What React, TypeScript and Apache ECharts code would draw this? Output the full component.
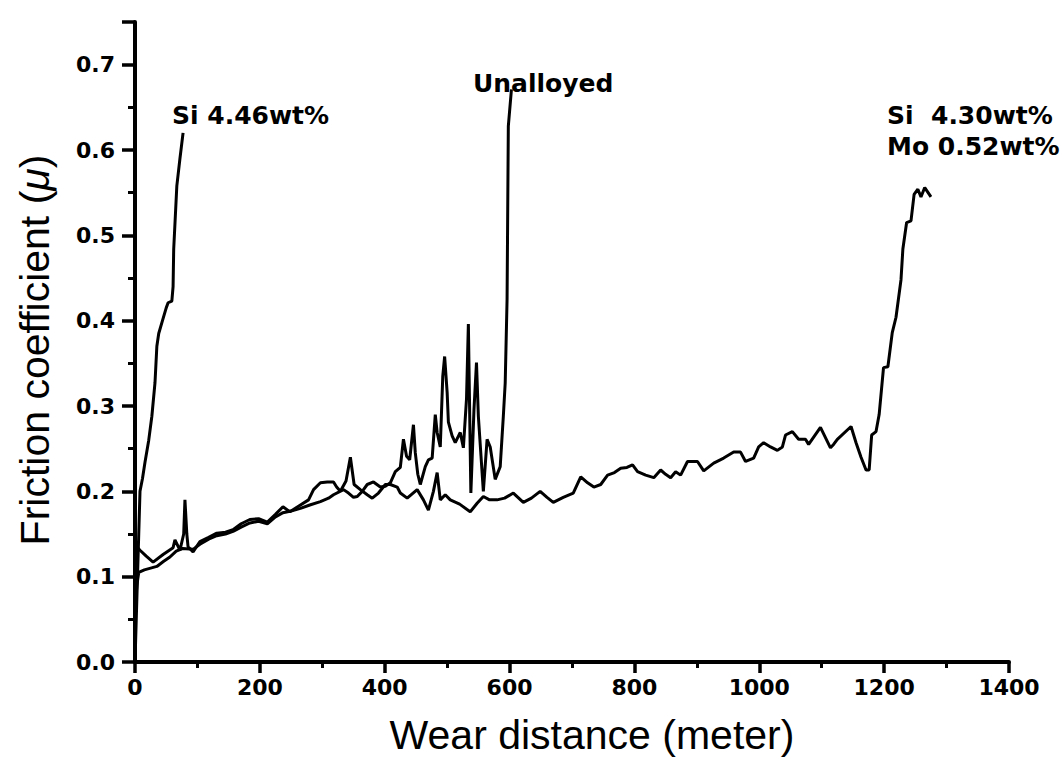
import React, { useEffect, useRef } from "react";
import * as echarts from "echarts";

const xTicks = [0, 200, 400, 600, 800, 1000, 1200, 1400];
const yTicks = [0.0, 0.1, 0.2, 0.3, 0.4, 0.5, 0.6, 0.7];

const si446: [number, number][] = [
  [0, 0.0], [2, 0.05], [4, 0.1], [6, 0.15], [8, 0.2], [12, 0.215], [16, 0.234], [22, 0.26],
  [27, 0.288], [32, 0.327], [35, 0.37], [38, 0.385], [44, 0.4], [50, 0.415], [53, 0.421],
  [59, 0.423], [61, 0.44], [62, 0.484], [67, 0.558], [72, 0.59], [77, 0.62],
];

const unalloyed: [number, number][] = [
  [0, 0.06], [3, 0.09], [6, 0.105], [15, 0.108], [25, 0.11], [35, 0.112], [46, 0.118], [56, 0.123],
  [66, 0.13], [76, 0.133], [93, 0.132], [104, 0.138], [118, 0.144], [131, 0.148], [145, 0.15],
  [157, 0.153], [170, 0.158], [184, 0.163], [198, 0.165], [212, 0.162], [225, 0.17], [237, 0.175],
  [250, 0.177], [265, 0.18], [280, 0.184], [297, 0.188], [310, 0.192], [318, 0.196], [334, 0.202],
  [342, 0.198], [350, 0.193], [356, 0.194], [364, 0.2], [372, 0.208], [382, 0.211], [393, 0.205],
  [401, 0.206], [409, 0.21], [417, 0.223], [425, 0.228], [430, 0.261], [435, 0.241], [440, 0.237],
  [446, 0.278], [449, 0.245], [453, 0.22], [457, 0.208], [465, 0.229], [470, 0.237], [476, 0.239],
  [481, 0.29], [484, 0.269], [489, 0.252], [493, 0.335], [496, 0.358], [500, 0.316], [502, 0.281],
  [508, 0.265], [513, 0.257], [521, 0.269], [526, 0.251], [531, 0.308], [534, 0.396], [538, 0.198],
  [543, 0.296], [547, 0.351], [550, 0.288], [558, 0.2], [564, 0.261], [569, 0.252], [577, 0.214],
  [585, 0.229], [590, 0.288], [593, 0.327], [596, 0.425], [598, 0.628], [603, 0.671],
];

const siMo: [number, number][] = [
  [0, 0.08], [3, 0.135], [8, 0.131], [18, 0.124], [29, 0.117], [45, 0.126], [61, 0.134], [64, 0.143],
  [72, 0.131], [78, 0.15], [80, 0.19], [83, 0.15], [85, 0.135], [93, 0.129], [104, 0.141], [118, 0.146],
  [131, 0.151], [145, 0.152], [157, 0.155], [170, 0.162], [184, 0.167], [198, 0.168], [212, 0.164],
  [225, 0.173], [237, 0.182], [248, 0.176], [265, 0.184], [278, 0.19], [286, 0.202], [297, 0.21],
  [308, 0.211], [318, 0.211], [323, 0.205], [329, 0.2], [338, 0.212], [345, 0.24], [351, 0.208],
  [361, 0.202], [372, 0.196], [380, 0.192], [390, 0.198], [401, 0.208], [409, 0.208], [420, 0.205],
  [425, 0.198], [436, 0.192], [452, 0.202], [462, 0.19], [470, 0.178], [478, 0.2], [484, 0.222],
  [489, 0.19], [497, 0.196], [505, 0.19], [520, 0.185], [537, 0.176], [548, 0.186], [558, 0.194],
  [568, 0.19], [580, 0.19], [592, 0.192], [606, 0.198], [622, 0.187], [635, 0.192], [649, 0.2],
  [660, 0.193], [670, 0.187], [686, 0.193], [702, 0.198], [714, 0.217], [725, 0.21], [735, 0.205],
  [746, 0.208], [757, 0.219], [768, 0.222], [778, 0.227], [788, 0.228], [797, 0.231], [805, 0.223],
  [818, 0.219], [831, 0.216], [842, 0.225], [850, 0.22], [858, 0.216], [866, 0.223], [874, 0.219],
  [885, 0.235], [901, 0.235], [911, 0.224], [927, 0.233], [943, 0.239], [959, 0.246], [970, 0.246],
  [978, 0.235], [991, 0.239], [999, 0.252], [1007, 0.257], [1018, 0.252], [1029, 0.248], [1037, 0.252],
  [1042, 0.266], [1053, 0.27], [1063, 0.261], [1074, 0.261], [1079, 0.255], [1098, 0.275], [1114, 0.251],
  [1119, 0.255], [1125, 0.261], [1147, 0.276], [1155, 0.257], [1163, 0.24], [1171, 0.225], [1176, 0.225],
  [1180, 0.266], [1187, 0.27], [1192, 0.29], [1199, 0.345], [1206, 0.346], [1213, 0.386], [1219, 0.404],
  [1227, 0.448], [1230, 0.484], [1236, 0.515], [1243, 0.517], [1248, 0.548], [1254, 0.554],
  [1259, 0.545], [1265, 0.556], [1275, 0.545],
];

const seriesNames = ["Si 4.46wt%", "Unalloyed", "Si 4.30wt% Mo 0.52wt%"];
const annotations = [
  { text: "Si 4.46wt%", x: 172, y: 115 },
  { text: "Unalloyed", x: 473, y: 83 },
  { text: "Si  4.30wt%", x: 887, y: 115 },
  { text: "Mo 0.52wt%", x: 887, y: 146 },
];

const labelFont = "'DejaVu Sans', sans-serif";
const titleFont = "'Liberation Sans', Arial, sans-serif";

export default function App() {
  const ref = useRef<HTMLDivElement>(null);
  useEffect(() => {
    if (!ref.current) return;
    const chart = echarts.init(ref.current, undefined, { renderer: "svg" });
    const lineStyle = { color: "#000", width: 3 };
    chart.setOption({
      animation: false,
      backgroundColor: "#fff",
      grid: { left: 135, right: 52, top: 22, bottom: 101, containLabel: false },
      xAxis: {
        type: "value",
        min: 0,
        max: 1400,
        interval: 200,
        name: "Wear distance (meter)",
        nameLocation: "middle",
        nameGap: 52,
        nameTextStyle: { fontFamily: titleFont, fontSize: 41, color: "#000", padding: [0, 0, 0, 40] },
        axisLine: { show: true, lineStyle: { color: "#000", width: 4 } },
        axisTick: { show: true, length: 11, lineStyle: { color: "#000", width: 3.5 } },
        minorTick: { show: true, splitNumber: 2, length: 6, lineStyle: { color: "#000", width: 3 } },
        splitLine: { show: false },
        axisLabel: {
          show: true,
          color: "#000",
          fontFamily: labelFont,
          fontWeight: "bold",
          fontSize: 22,
          margin: 14,
          formatter: (v: number) => (xTicks.includes(v) ? String(v) : ""),
        },
      },
      yAxis: {
        type: "value",
        min: 0,
        max: 0.75,
        interval: 0.1,
        name: "Friction coefficient ({mu|μ})",
        nameLocation: "middle",
        nameRotate: 90,
        nameGap: 80,
        nameTextStyle: {
          fontFamily: titleFont,
          fontSize: 41,
          color: "#000",
          padding: [0, 16, 0, 0],
          rich: { mu: { fontFamily: titleFont, fontSize: 41, fontStyle: "italic", color: "#000" } },
        },
        axisLine: { show: true, lineStyle: { color: "#000", width: 4 } },
        axisTick: { show: true, length: 13, lineStyle: { color: "#000", width: 3.5 } },
        minorTick: { show: true, splitNumber: 2, length: 7, lineStyle: { color: "#000", width: 3 } },
        splitLine: { show: false },
        axisLabel: {
          show: true,
          color: "#000",
          fontFamily: labelFont,
          fontWeight: "bold",
          fontSize: 22,
          margin: 20,
          showMaxLabel: false,
          formatter: (v: number) => {
            const hit = yTicks.find((t) => Math.abs(t - v) < 1e-6);
            return hit === undefined ? "" : hit.toFixed(1);
          },
        },
      },
      series: [
        { name: seriesNames[0], type: "line", data: si446, showSymbol: false, lineStyle, z: 3 },
        { name: seriesNames[1], type: "line", data: unalloyed, showSymbol: false, lineStyle, z: 3 },
        { name: seriesNames[2], type: "line", data: siMo, showSymbol: false, lineStyle, z: 3 },
      ],
      graphic: annotations.map((a) => ({
        type: "text",
        x: a.x,
        y: a.y,
        style: {
          text: a.text,
          fill: "#000",
          font: `bold 25px ${labelFont}`,
          textVerticalAlign: "middle",
        },
      })),
    });
    return () => chart.dispose();
  }, []);
  return (
    <div
      ref={ref}
      style={{ position: "fixed", left: 0, top: 0, width: 1061, height: 763, background: "#fff" }}
    />
  );
}
